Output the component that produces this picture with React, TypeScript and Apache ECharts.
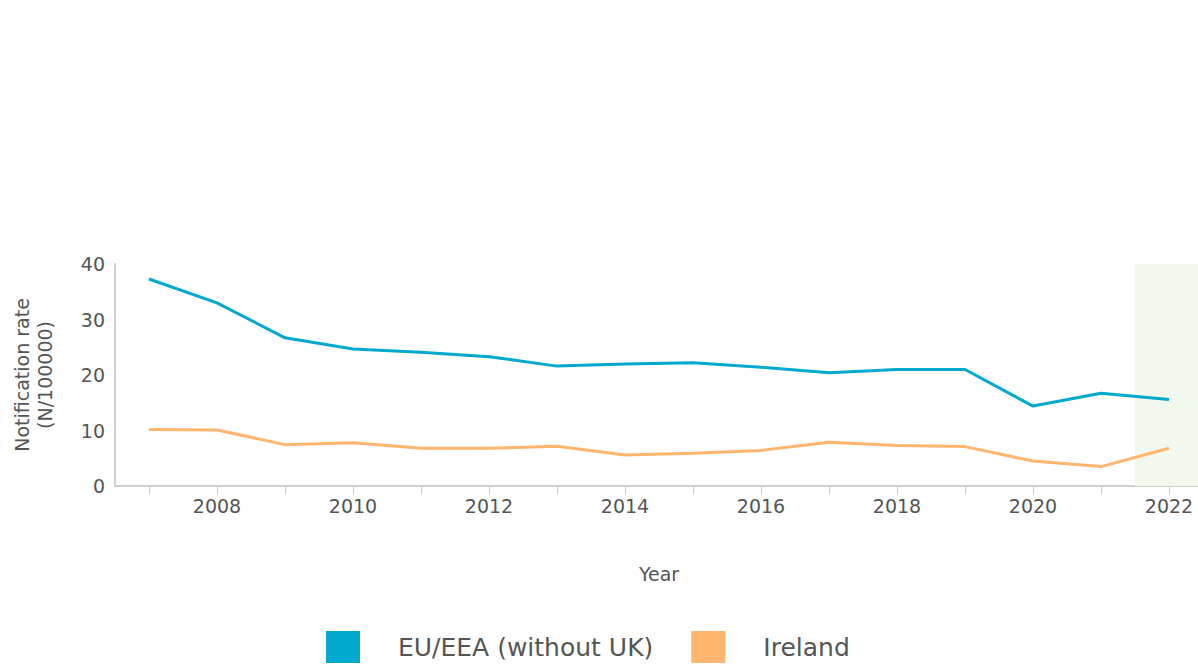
import React, { useEffect, useRef } from "react";
import * as echarts from "echarts";

const years = ["2007","2008","2009","2010","2011","2012","2013","2014","2015","2016","2017","2018","2019","2020","2021","2022"];
const euValues = [37.3, 33.0, 26.7, 24.7, 24.1, 23.3, 21.6, 22.0, 22.2, 21.4, 20.4, 21.0, 21.0, 14.4, 16.7, 15.6];
const irelandValues = [10.2, 10.1, 7.45, 7.8, 6.8, 6.8, 7.15, 5.6, 5.9, 6.4, 7.9, 7.3, 7.1, 4.5, 3.5, 6.8];
const highlightValues = [null, null, null, null, null, null, null, null, null, null, null, null, null, null, null, 40];
const yTicks = { min: 0, max: 40, interval: 10 };

export default function App() {
  const ref = useRef<HTMLDivElement>(null);
  useEffect(() => {
    document.body.style.margin = "0";
    const chart = echarts.init(ref.current!, null, { renderer: "svg" });
    const font = "DejaVu Sans";
    chart.setOption({
      animation: false,
      textStyle: { fontFamily: font },
      grid: { left: 115, top: 264, width: 1088, height: 222, containLabel: false, outerBoundsMode: "none" },
      legend: {
        data: ["EU/EEA (without UK)", "Ireland"],
        left: 326,
        top: 631,
        padding: 0,
        itemWidth: 34,
        itemHeight: 32,
        itemGap: 38,
        icon: "rect",
        textStyle: { fontSize: 25, lineHeight: 26, color: "#555", fontFamily: font, padding: [0, 0, 0, 33] },
        selectedMode: false,
      },
      xAxis: {
        type: "category",
        data: years,
        boundaryGap: true,
        name: "Year",
        nameLocation: "middle",
        nameGap: 78,
        nameTextStyle: { fontSize: 19, color: "#555", fontFamily: font },
        axisLine: { lineStyle: { color: "#d0d0d0", width: 2 } },
        axisTick: { show: true, interval: 0, alignWithLabel: true, length: 8, lineStyle: { color: "#cccccc", width: 1 } },
        axisLabel: {
          interval: (i: number) => i % 2 === 1,
          fontSize: 19,
          color: "#555",
          margin: 10,
          fontFamily: font,
        },
        splitLine: { show: false },
      },
      yAxis: {
        type: "value",
        min: yTicks.min,
        max: yTicks.max,
        interval: yTicks.interval,
        name: "Notification rate\n(N/100000)",
        nameLocation: "middle",
        nameGap: 59,
        nameTextStyle: { fontSize: 19, color: "#555", fontFamily: font, lineHeight: 23 },
        axisLine: { show: true, lineStyle: { color: "#d0d0d0", width: 2 } },
        axisTick: { show: false },
        axisLabel: { fontSize: 19, color: "#555", margin: 10, fontFamily: font },
        splitLine: { show: false },
      },
      series: [
        {
          name: "highlight",
          type: "bar",
          data: highlightValues,
          barWidth: "100%",
          barGap: "-100%",
          itemStyle: { color: "#f3f8ef" },
          silent: true,
          z: 0,
        },
        {
          name: "EU/EEA (without UK)",
          type: "line",
          data: euValues,
          symbol: "none",
          lineStyle: { color: "#00a9cd", width: 3 },
          itemStyle: { color: "#00a9cd" },
          z: 3,
        },
        {
          name: "Ireland",
          type: "line",
          data: irelandValues,
          symbol: "none",
          lineStyle: { color: "#ffb56e", width: 3 },
          itemStyle: { color: "#ffb56e" },
          z: 2,
        },
      ],
    });
    return () => chart.dispose();
  }, []);
  return <div ref={ref} style={{ width: 1198, height: 665 }} />;
}
